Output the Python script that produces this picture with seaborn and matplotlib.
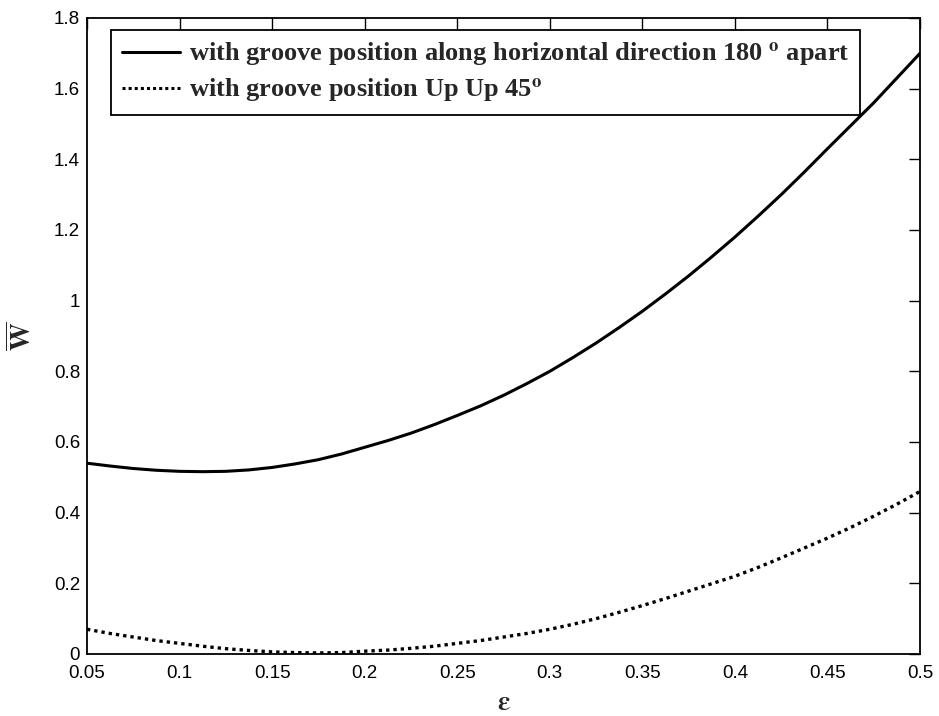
import numpy as np
import pandas as pd
import seaborn as sns
import matplotlib
matplotlib.use("Agg")
import matplotlib.pyplot as plt

eps = [0.05, 0.0625, 0.075, 0.0875, 0.1, 0.1125, 0.125, 0.1375, 0.15, 0.1625,
       0.175, 0.1875, 0.2, 0.2125, 0.225, 0.2375, 0.25, 0.2625, 0.275, 0.2875,
       0.3, 0.3125, 0.325, 0.3375, 0.35, 0.3625, 0.375, 0.3875, 0.4, 0.4125,
       0.425, 0.4375, 0.45, 0.4625, 0.475, 0.4875, 0.5]
w_horizontal = [0.540, 0.532, 0.525, 0.520, 0.517, 0.516, 0.517, 0.521, 0.528, 0.538,
                0.550, 0.566, 0.585, 0.604, 0.625, 0.649, 0.675, 0.702, 0.732, 0.765,
                0.800, 0.839, 0.880, 0.924, 0.970, 1.019, 1.070, 1.124, 1.180, 1.239,
                1.300, 1.364, 1.430, 1.495, 1.560, 1.630, 1.700]
w_upup = [0.070, 0.058, 0.048, 0.038, 0.030, 0.022, 0.015, 0.010, 0.006, 0.004,
          0.003, 0.004, 0.008, 0.011, 0.016, 0.022, 0.030, 0.038, 0.048, 0.058,
          0.070, 0.084, 0.100, 0.118, 0.137, 0.157, 0.178, 0.199, 0.220, 0.245,
          0.272, 0.300, 0.328, 0.358, 0.390, 0.424, 0.460]

lab1 = r"with groove position along horizontal direction 180 $^{\mathbf{o}}$ apart"
lab2 = r"with groove position Up Up 45$^{\mathbf{o}}$"

df = pd.concat([
    pd.DataFrame({"eps": eps, "W": w_horizontal, "case": lab1}),
    pd.DataFrame({"eps": eps, "W": w_upup, "case": lab2}),
])

sns.set_style("white")
plt.rcParams["font.family"] = ["Liberation Sans", "DejaVu Sans"]
plt.rcParams["mathtext.fontset"] = "stix"

fig = plt.figure(figsize=(9.39, 7.16), dpi=100)
ax = fig.add_axes([87/939, 1 - 654/716, (920-87)/939, (654-18)/716])

sns.lineplot(data=df, x="eps", y="W", hue="case", style="case",
             palette=["black", "black"], dashes=[(None, None), (1, 1)],
             linewidth=2.2, ax=ax, legend=True)
ax.lines[1].set_linestyle((0, (1, 1.2)))
ax.lines[1].set_linewidth(2.4)

ax.set_xlim(0.05, 0.5)
ax.set_ylim(0, 1.8)
ax.set_xticks([0.05, 0.1, 0.15, 0.2, 0.25, 0.3, 0.35, 0.4, 0.45, 0.5])
ax.set_xticklabels(["0.05", "0.1", "0.15", "0.2", "0.25", "0.3", "0.35", "0.4", "0.45", "0.5"])
ax.set_yticks([0, 0.2, 0.4, 0.6, 0.8, 1.0, 1.2, 1.4, 1.6, 1.8])
ax.set_yticklabels(["0", "0.2", "0.4", "0.6", "0.8", "1", "1.2", "1.4", "1.6", "1.8"])
ax.tick_params(direction="in", length=8, width=1, top=True, right=True,
               labelsize=13.5, colors="black", labelcolor="black")
ax.tick_params(axis="x", pad=8)
ax.tick_params(axis="y", pad=5)
for s in ax.spines.values():
    s.set_visible(True)
    s.set_color("black")
    s.set_linewidth(1.3)

ax.set_xlabel(r"$\mathbf{\varepsilon}$", fontsize=20, labelpad=6)
ax.set_ylabel(r"$\mathbf{\overline{W}}$", fontsize=20, labelpad=12)

handles, labels = ax.get_legend_handles_labels()
leg = ax.legend(handles, labels, loc="upper left", bbox_to_anchor=(24/833, 1 - 12/636),
                frameon=True, fancybox=False, edgecolor="black", framealpha=1,
                prop={"family": "Liberation Serif", "weight": "bold", "size": 19},
                handlelength=2.2, handletextpad=0.35, borderpad=0.4, labelspacing=0.3,
                borderaxespad=0)
leg.get_frame().set_linewidth(1.3)

fig.savefig("out.png", dpi=100)
